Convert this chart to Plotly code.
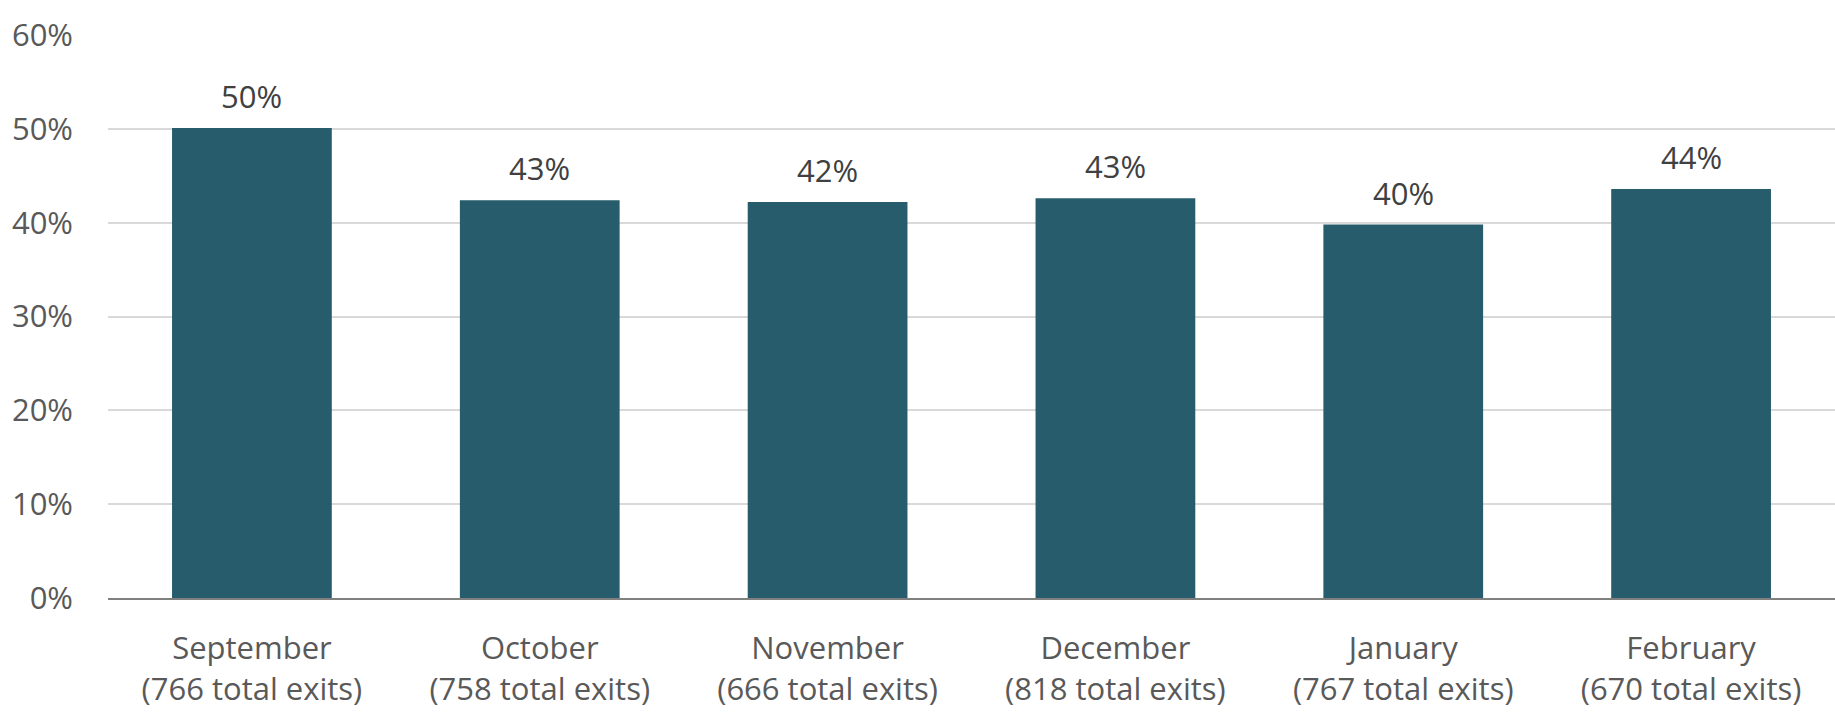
import plotly.graph_objects as go

months = ["September", "October", "November", "December", "January", "February"]
total_exits = [766, 758, 666, 818, 767, 670]
share = [50.1, 42.4, 42.2, 42.6, 39.8, 43.6]
labels = ["50%", "43%", "42%", "43%", "40%", "44%"]
y_ticks = [0, 10, 20, 30, 40, 50, 60]
y_tick_text = [f"{v}%" for v in y_ticks]

categories = [f"{m}<br>({n} total exits)" for m, n in zip(months, total_exits)]

FONT = "Open Sans"
FS = 31

fig = go.Figure(go.Bar(
    x=categories,
    y=share,
    marker=dict(color="#265C6B", line=dict(width=0)),
    width=0.555,
))

for c, v, t in zip(categories, share, labels):
    fig.add_annotation(
        x=c, y=v, text=t, showarrow=False,
        xanchor="center", yanchor="bottom", yshift=9,
        font=dict(family=FONT, size=FS, color="#404040"),
    )

fig.update_layout(
    width=1835, height=713,
    margin=dict(l=108, r=0, t=35, b=115),
    paper_bgcolor="white", plot_bgcolor="white",
    showlegend=False,
    font=dict(family=FONT, size=FS, color="#595959"),
)
fig.update_yaxes(
    range=[0, 60], tickvals=y_ticks, ticktext=y_tick_text,
    showgrid=True, gridcolor="#D9D9D9", gridwidth=2,
    zeroline=False, showline=False, automargin=False,
    ticks="", ticklabelstandoff=34,
    tickfont=dict(family=FONT, size=FS, color="#595959"),
)
fig.update_xaxes(
    showline=True, linecolor="#808080", linewidth=2,
    ticks="", ticklabelstandoff=22, automargin=False,
    tickfont=dict(family=FONT, size=FS, color="#595959"),
)

fig.write_html(
    "out.html",
    config={"displayModeBar": False},
    post_script="document.body.style.margin='0';document.body.style.overflow='hidden';",
)
